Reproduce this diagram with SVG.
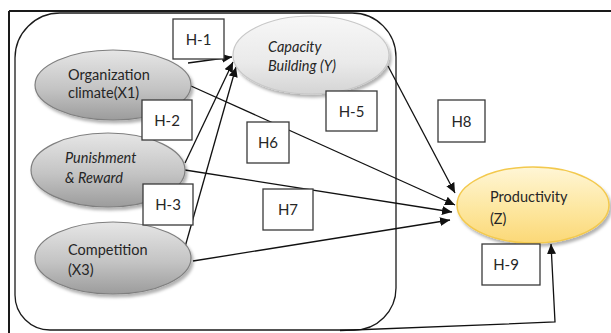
<svg xmlns="http://www.w3.org/2000/svg" width="611" height="333" viewBox="0 0 611 333">
  <style>
    .lbl { font-family: Lato, "Liberation Sans", sans-serif; font-size: 14.5px; fill: #262626; }
    .it { font-style: italic; }
    .box rect { fill: #ffffff; stroke: #3a3a3a; stroke-width: 1.3; }
    .box text { font-family: Lato, "Liberation Sans", sans-serif; font-size: 15px; fill: #262626; text-anchor: middle; }
    .gray ellipse { fill: url(#gGray); stroke: #7f7f7f; stroke-width: 1.2; filter: url(#shadow); }
    .light ellipse { fill: url(#gLight); stroke: #c8c8c8; stroke-width: 1.2; filter: url(#shadow); }
    .gold ellipse { fill: url(#gGold); stroke: #f3c94d; stroke-width: 1.5; filter: url(#shadow); }
    .conn line, .conn polyline { stroke: #111111; stroke-width: 1.3; fill: none; }
    .arr { marker-end: url(#ah); }
  </style>
  <defs>
    <linearGradient id="gGray" x1="0" y1="0" x2="0" y2="1">
      <stop offset="0" stop-color="#e6e6e6"/>
      <stop offset="0.55" stop-color="#c4c4c4"/>
      <stop offset="1" stop-color="#9c9c9c"/>
    </linearGradient>
    <linearGradient id="gLight" x1="0" y1="0" x2="0" y2="1">
      <stop offset="0" stop-color="#f7f7f7"/>
      <stop offset="0.6" stop-color="#eaeaea"/>
      <stop offset="1" stop-color="#d4d4d4"/>
    </linearGradient>
    <linearGradient id="gGold" x1="0" y1="0" x2="0" y2="1">
      <stop offset="0" stop-color="#fff6d6"/>
      <stop offset="0.55" stop-color="#fde7a0"/>
      <stop offset="1" stop-color="#fbd877"/>
    </linearGradient>
    <filter id="shadow" x="-10%" y="-10%" width="125%" height="130%">
      <feDropShadow dx="2" dy="3" stdDeviation="1.5" flood-color="#000" flood-opacity="0.3"/>
    </filter>
    <marker id="ah" markerUnits="userSpaceOnUse" markerWidth="11" markerHeight="9" refX="10" refY="4.5" orient="auto">
      <path d="M0,0 L10,4.5 L0,9 Z" fill="#111111"/>
    </marker>
  </defs>

  <!-- outer frame (top and left edges) -->
  <g id="frame">
    <line x1="9" y1="11" x2="611" y2="11" stroke="#1a1a1a" stroke-width="2"/>
    <line x1="9" y1="11" x2="9" y2="333" stroke="#1a1a1a" stroke-width="2"/>
    <path d="M60 13 H352 A44 44 0 0 1 396 57 V288 A42 42 0 0 1 354 330 H50 A35 35 0 0 1 15 295 V58 A45 45 0 0 1 60 13 Z" fill="none" stroke="#1a1a1a" stroke-width="1.3"/>
  </g>

  <!-- connectors -->
  <g id="connectors" class="conn">
    <line class="arr" x1="188" y1="63" x2="232" y2="57"/>
    <line class="arr" x1="185" y1="163" x2="233" y2="62"/>
    <line class="arr" x1="185" y1="247" x2="236" y2="67"/>
    <line class="arr" x1="388" y1="66" x2="455" y2="193"/>
    <line class="arr" x1="191" y1="86" x2="455" y2="205"/>
    <line class="arr" x1="185" y1="170" x2="452" y2="212"/>
    <line class="arr" x1="193" y1="261" x2="450" y2="220"/>
    <polyline class="arr" points="340,330.5 555,322 551,244"/>
  </g>

  <!-- nodes -->
  <g id="org-climate" class="gray">
    <ellipse cx="113" cy="85" rx="78" ry="35"/>
    <text class="lbl" x="68" y="80">Organization</text>
    <text class="lbl" x="68" y="98">climate(X1)</text>
  </g>
  <g id="punishment" class="gray">
    <ellipse cx="108" cy="170" rx="77" ry="37"/>
    <text class="lbl it" x="65" y="163">Punishment</text>
    <text class="lbl it" x="65" y="183">&amp; Reward</text>
  </g>
  <g id="competition" class="gray">
    <ellipse cx="113" cy="258" rx="78" ry="36"/>
    <text class="lbl" x="68" y="255">Competition</text>
    <text class="lbl" x="68" y="275">(X3)</text>
  </g>
  <g id="capacity" class="light">
    <ellipse cx="311" cy="55" rx="78" ry="39"/>
    <text class="lbl it" x="268" y="52">Capacity</text>
    <text class="lbl it" x="268" y="71">Building (Y)</text>
  </g>
  <g id="productivity" class="gold">
    <ellipse cx="533" cy="205" rx="76" ry="38"/>
    <text class="lbl" x="490" y="202">Productivity</text>
    <text class="lbl" x="490" y="224">(Z)</text>
  </g>

  <!-- hypothesis labels -->
  <g id="h1" class="box"><rect x="173" y="19" width="51" height="40"/><text x="198.5" y="45">H-1</text></g>
  <g id="h2" class="box"><rect x="142" y="100" width="50" height="40"/><text x="167" y="126">H-2</text></g>
  <g id="h3" class="box"><rect x="143" y="184" width="50" height="41"/><text x="168" y="210">H-3</text></g>
  <g id="h5" class="box"><rect x="326" y="91" width="51" height="40"/><text x="351.5" y="117">H-5</text></g>
  <g id="h6" class="box"><rect x="247" y="122" width="42" height="41"/><text x="268" y="148">H6</text></g>
  <g id="h7" class="box"><rect x="263" y="189" width="50" height="41"/><text x="288" y="215">H7</text></g>
  <g id="h8" class="box"><rect x="438" y="100" width="47" height="42"/><text x="461.5" y="127">H8</text></g>
  <g id="h9" class="box"><rect x="482" y="244" width="58" height="41"/><text x="506" y="270">H-9</text></g>
</svg>
